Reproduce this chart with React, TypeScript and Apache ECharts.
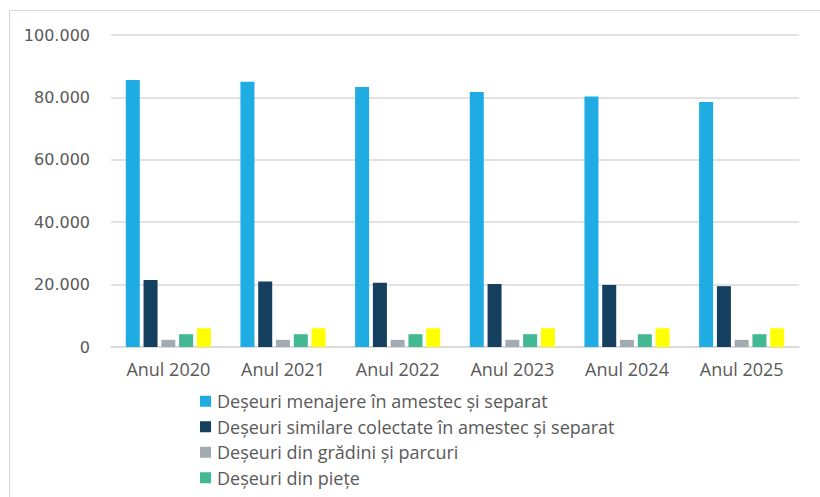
import React, { useEffect, useRef } from "react";
import * as echarts from "echarts";

const categories = ["Anul 2020", "Anul 2021", "Anul 2022", "Anul 2023", "Anul 2024", "Anul 2025"];
const seriesNames = [
  "Deșeuri menajere în amestec și separat",
  "Deșeuri similare colectate în amestec și separat",
  "Deșeuri din grădini și parcuri",
  "Deșeuri din piețe",
  "Deșeuri stradale",
];
const menajere = [85600, 85000, 83300, 81700, 80300, 78500];
const similare = [21500, 21000, 20600, 20200, 19900, 19500];
const gradini = [2300, 2300, 2300, 2300, 2300, 2300];
const piete = [4100, 4100, 4100, 4100, 4100, 4100];
const stradale = [6000, 6000, 6000, 6000, 6000, 6000];
const colors = ["#1EACE3", "#143F5F", "#A2ABB2", "#42B993", "#FFFF00"];

const FONT = "Open Sans";

export default function App() {
  const ref = useRef<HTMLDivElement>(null);
  useEffect(() => {
    if (!ref.current) return;
    const chart = echarts.init(ref.current, null, { renderer: "svg" });
    const values = [menajere, similare, gradini, piete, stradale];
    chart.setOption({
      animation: false,
      textStyle: { fontFamily: FONT },
      grid: { left: 111, right: 21, top: 35, bottom: 150, containLabel: false },
      legend: {
        data: seriesNames.slice(0, 4),
        orient: "vertical",
        left: 200,
        top: 389,
        height: 200,
        padding: 0,
        itemWidth: 11,
        itemHeight: 11,
        itemGap: 1,
        icon: "rect",
        textStyle: { fontFamily: FONT, fontSize: 18, color: "#595959", padding: [0, 0, 0, 1], lineHeight: 24.5 },
      },
      graphic: [
        {
          type: "rect",
          shape: { x: 9.5, y: 10.5, width: 840, height: 520 },
          style: { fill: "none", stroke: "#D9D9D9", lineWidth: 1 },
          silent: true,
        },
      ],
      xAxis: {
        type: "category",
        data: categories,
        axisLine: { lineStyle: { color: "#D9D9D9", width: 1.5 } },
        axisTick: { show: false },
        axisLabel: { color: "#595959", fontSize: 18, fontFamily: FONT, margin: 13 },
      },
      yAxis: {
        type: "value",
        min: 0,
        max: 100000,
        interval: 20000,
        axisLine: { show: false },
        axisTick: { show: false },
        splitLine: { lineStyle: { color: "#D9D9D9", width: 1.5 } },
        axisLabel: {
          color: "#595959",
          fontSize: 16,
          fontFamily: "DejaVu Sans",
          margin: 21,
          formatter: (v: number) =>
            v === 0 ? "0" : v.toString().replace(/\B(?=(\d{3})+(?!\d))/g, "."),
        },
      },
      series: values.map((d, i) => ({
        name: seriesNames[i],
        type: "bar",
        data: d,
        barWidth: 14,
        barGap: "27%",
        itemStyle: { color: colors[i] },
      })),
    });
    return () => chart.dispose();
  }, []);
  return <div ref={ref} style={{ width: 820, height: 497, position: "absolute", left: 0, top: 0 }} />;
}
